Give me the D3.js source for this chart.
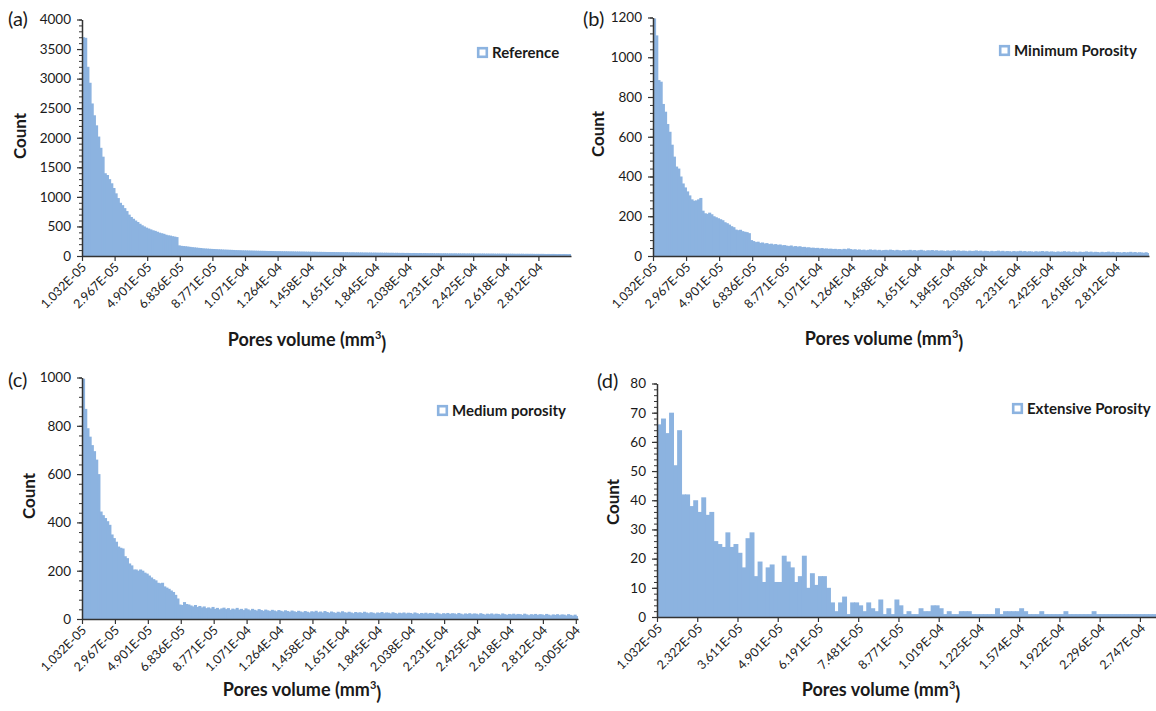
<!DOCTYPE html>
<html><head><meta charset="utf-8">
<script src="https://cdn.jsdelivr.net/npm/d3@7"></script>
<style>
body{margin:0;background:#fff}
svg{display:block}
text{font-family:Lato,"Open Sans",sans-serif;fill:#1a1a1a}
</style>
</head><body>
<svg id="chart" width="1156" height="711"></svg>
<script>
// ---------- DATA ----------
const labelsAB = ["1.032E-05","2.967E-05","4.901E-05","6.836E-05","8.771E-05","1.071E-04","1.264E-04","1.458E-04","1.651E-04","1.845E-04","2.038E-04","2.231E-04","2.425E-04","2.618E-04","2.812E-04"];
const labelsC = ["1.032E-05","2.967E-05","4.901E-05","6.836E-05","8.771E-05","1.071E-04","1.264E-04","1.458E-04","1.651E-04","1.845E-04","2.038E-04","2.231E-04","2.425E-04","2.618E-04","2.812E-04","3.005E-04"];
const labelsD = ["1.032E-05","2.322E-05","3.611E-05","4.901E-05","6.191E-05","7.481E-05","8.771E-05","1.019E-04","1.225E-04","1.574E-04","1.922E-04","2.296E-04","2.747E-04"];

const countsReference = [
3700,3690,3200,2930,2580,2380,2210,2020,1830,1680,
1400,1370,1300,1230,1150,1060,980,900,860,810,
760,700,660,630,600,575,545,520,500,480,
465,450,435,425,410,395,385,375,360,350,
345,335,328,320,180,172,168,165,160,155,
150,146,142,138,135,130,127,125,122,120,
118,116,114,112,110,108,107,105,104,102,
100,99,98,96,95,94,93,92,91,90,
89,88,88,87,86,85,85,84,83,82,
82,81,80,80,79,78,78,77,76,76,
75,75,74,73,73,72,72,71,70,70,
69,69,68,68,67,67,66,66,65,65,
64,65,63,62,63,61,62,60,61,59,
60,58,59,57,58,57,56,57,55,56,
55,54,55,53,54,53,52,53,51,52,
51,50,51,50,49,50,48,49,48,47,
48,47,46,47,46,45,46,45,44,45,
44,45,43,44,43,44,42,43,42,43,
42,41,42,41,42,40,41,40,41,40,
39,40,39,40,38,39,38,39,38,37,
38,37,38,36,37,36,37,36,35,36,
35,36,35,34,35,34,35,34,33,34,
33,34,33,32,33];

const countsMinimum = [
1195,1110,885,877,765,726,664,625,560,500,
450,440,400,365,345,325,305,285,278,280,
285,292,228,215,212,218,210,200,195,190,
185,180,170,165,158,150,145,133,130,132,
125,122,120,115,80,75,70,72,66,68,
63,65,60,62,58,60,56,58,54,55,
52,50,53,48,50,47,49,45,46,43,
44,41,42,40,41,38,40,37,38,36,
37,35,36,34,35,33,36,34,38,35,
32,34,31,33,30,32,29,31,33,30,
32,29,31,28,30,31,29,32,30,28,
31,29,27,30,28,29,31,28,30,27,
29,31,28,26,29,28,30,27,29,26,
28,27,25,28,26,27,29,26,28,25,
27,26,24,27,25,26,28,25,27,24,
26,25,23,26,24,25,27,24,26,23,
25,24,22,25,23,24,26,23,25,22,
24,23,21,24,22,23,25,22,24,21,
23,22,20,23,21,22,24,21,23,20,
22,21,19,22,20,21,23,20,22,19,
21,20,18,21,19,20,22,19,21,18,
20,19,17,20,18,19,21,18,20,17,
19,18,16,19,15];

const countsMedium = [
995,870,790,755,720,695,660,600,445,430,
418,405,390,350,335,320,300,295,292,260,
252,230,222,205,205,200,205,200,192,188,
180,172,165,160,150,148,150,135,130,125,
118,112,100,85,60,58,70,62,60,56,
52,58,50,54,48,52,45,48,44,50,
42,46,40,44,47,41,45,38,43,40,
46,39,42,37,44,40,36,42,38,35,
41,37,34,39,36,33,38,35,32,37,
34,31,36,33,30,35,32,29,34,31,
28,33,30,27,32,30,34,28,31,27,
33,29,26,31,28,25,30,27,32,28,
26,30,27,24,29,26,28,25,30,27,
24,28,26,23,27,25,29,24,27,26,
23,28,25,22,26,24,27,23,26,25,
22,27,24,21,25,23,26,22,25,24,
21,26,23,20,24,22,25,21,24,23,
20,25,22,19,23,21,24,20,23,22,
19,24,21,18,22,20,23,19,22,21,
18,23,20,17,21,19,22,18,21,20,
17,22,19,16,20,18,21,17,20,19,
16,21,18,15,19,17,20,16,19,18,
15,20,17,14,18,12];

const countsExtensive = [
66,68,63,70,52,64,42,42,38,40,
36,41,35,36,26,25,24,29,24,25,
22,17,27,29,14,19,12,17,18,12,
12,21,19,17,12,14,21,10,15,11,
14,14,10,5,2,5,7,1,5,5,
4,2,5,3,2,6,1,3,1,6,
4,1,2,1,1,3,2,2,4,4,
3,1,2,1,1,2,2,2,1,1,
1,1,1,1,3,1,2,2,2,2,
3,2,1,1,1,2,1,1,1,1,
1,2,1,1,1,1,1,1,2,1,
1,1,1,1,1,1,1,1,1,1,
1,1,1,1];

const yTicksA = [0,500,1000,1500,2000,2500,3000,3500,4000];
const yTicksB = [0,200,400,600,800,1000,1200];
const yTicksC = [0,200,400,600,800,1000];
const yTicksD = [0,10,20,30,40,50,60,70,80];
const legendNames = ["Reference","Minimum Porosity","Medium porosity","Extensive Porosity"];
const panelTags = ["(a)","(b)","(c)","(d)"];

// ---------- LAYOUT ----------
const BAR = "#8cb3e0";
const panels = [
  {tag:panelTags[0], counts:countsReference, labels:labelsAB, every:15, yTicks:yTicksA, minorN:5, legend:legendNames[0],
   x0:82, x1:571, top:19.5, bot:256, tagXY:[8,26], countXY:[20,136], titleXY:[307,346], legXY:[477,47]},
  {tag:panelTags[1], counts:countsMinimum, labels:labelsAB, every:15, yTicks:yTicksB, minorN:5, legend:legendNames[1],
   x0:653, x1:1149, top:17.5, bot:256, tagXY:[583,26], countXY:[598,134], titleXY:[884,345], legXY:[999,45]},
  {tag:panelTags[2], counts:countsMedium, labels:labelsC, every:15, yTicks:yTicksC, minorN:5, legend:legendNames[2],
   x0:82, x1:578, top:377.5, bot:619, tagXY:[8,387], countXY:[29,496], titleXY:[302,696], legXY:[437,405]},
  {tag:panelTags[3], counts:countsExtensive, labels:labelsD, every:10, yTicks:yTicksD, minorN:5, legend:legendNames[3],
   x0:657, x1:1156, top:383.5, bot:617, tagXY:[597,388], countXY:[613,502], titleXY:[881,696], legXY:[1012,403]}
];

const svg = d3.select("#chart");

panels.forEach(p => {
  const n = p.counts.length;
  const g = svg.append("g");
  const x = d3.scaleBand().domain(d3.range(n)).range([p.x0, p.x1]).padding(0);
  const xb = d3.scaleLinear().domain([0, n]).range([p.x0, p.x1]);
  const yMax = p.yTicks[p.yTicks.length-1];
  const y = d3.scaleLinear().domain([0, yMax]).range([p.bot, p.top]);

  // bars (slightly overlapping so no hairline gaps appear)
  g.append("g").selectAll("rect").data(p.counts).join("rect")
    .attr("x", (d,i) => x(i))
    .attr("width", (d,i) => i === n-1 ? x.bandwidth() : x.bandwidth() + 0.9)
    .attr("y", d => y(d))
    .attr("height", d => p.bot - y(d))
    .attr("fill", BAR);

  // minor y ticks
  const step = p.yTicks[1] - p.yTicks[0];
  const minorVals = d3.range(0, yMax + 1e-9, step / p.minorN);
  g.append("g").attr("transform", `translate(${p.x0},0)`)
    .call(d3.axisLeft(y).tickValues(minorVals).tickSize(3).tickFormat(""))
    .call(a => a.select(".domain").remove())
    .call(a => a.selectAll("line").attr("stroke", "#333").attr("stroke-width", 1));

  // major y axis
  g.append("g").attr("transform", `translate(${p.x0},0)`)
    .call(d3.axisLeft(y).tickValues(p.yTicks).tickSize(5).tickSizeOuter(0).tickPadding(6).tickFormat(d3.format("d")))
    .call(a => a.select(".domain").attr("stroke", "#333").attr("stroke-width", 1.5))
    .call(a => a.selectAll("line").attr("stroke", "#333").attr("stroke-width", 1.2))
    .call(a => a.selectAll("text").attr("font-size", 13.5).attr("fill", "#222")
                 .style("font-family", "Lato, sans-serif"));

  // x axis (ticks at category boundaries)
  const tickIdx = d3.range(0, n, p.every);
  g.append("g").attr("transform", `translate(0,${p.bot})`)
    .call(d3.axisBottom(xb).tickValues(tickIdx).tickSize(5).tickSizeOuter(0).tickFormat(""))
    .call(a => a.select(".domain").attr("stroke", "#333").attr("stroke-width", 1.6))
    .call(a => a.selectAll("line").attr("stroke", "#333").attr("stroke-width", 1.2));

  // rotated category labels
  g.append("g").selectAll("text").data(p.labels).join("text")
    .attr("transform", (d,j) => {
      const cx = x(j * p.every) + x.bandwidth() / 2;
      return `translate(${cx + 1},${p.bot + 9}) rotate(-45)`;
    })
    .attr("text-anchor", "end")
    .attr("dy", "0.35em")
    .attr("font-size", 12.5)
    .attr("fill", "#222")
    .text(d => d);

  // panel tag
  g.append("text").attr("x", p.tagXY[0]).attr("y", p.tagXY[1])
    .attr("font-size", 20).text(p.tag);

  // y title
  g.append("text").attr("transform", `translate(${p.countXY[0]},${p.countXY[1]}) rotate(-90)`)
    .attr("text-anchor", "middle").attr("dy", "0.35em")
    .attr("font-size", 17).attr("font-weight", "bold").text("Count");

  // x title
  const t = g.append("text").attr("x", p.titleXY[0]).attr("y", p.titleXY[1])
    .attr("text-anchor", "middle").attr("font-size", 18).attr("font-weight", "bold");
  t.append("tspan").text("Pores volume (mm");
  t.append("tspan").attr("font-size", 11).attr("dy", "-0.6em").text("3");
  t.append("tspan").attr("dy", "0.6em").text(")");

  // legend
  g.append("rect").attr("x", p.legXY[0] + 1.2).attr("y", p.legXY[1] + 1.2)
    .attr("width", 8.6).attr("height", 8.6)
    .attr("fill", "#fff").attr("stroke", BAR).attr("stroke-width", 2.6);
  g.append("text").attr("x", p.legXY[0] + 15).attr("y", p.legXY[1] + 5.5)
    .attr("dy", "0.35em").attr("font-size", 15).attr("font-weight", "bold").text(p.legend);
});
</script>
</body></html>
